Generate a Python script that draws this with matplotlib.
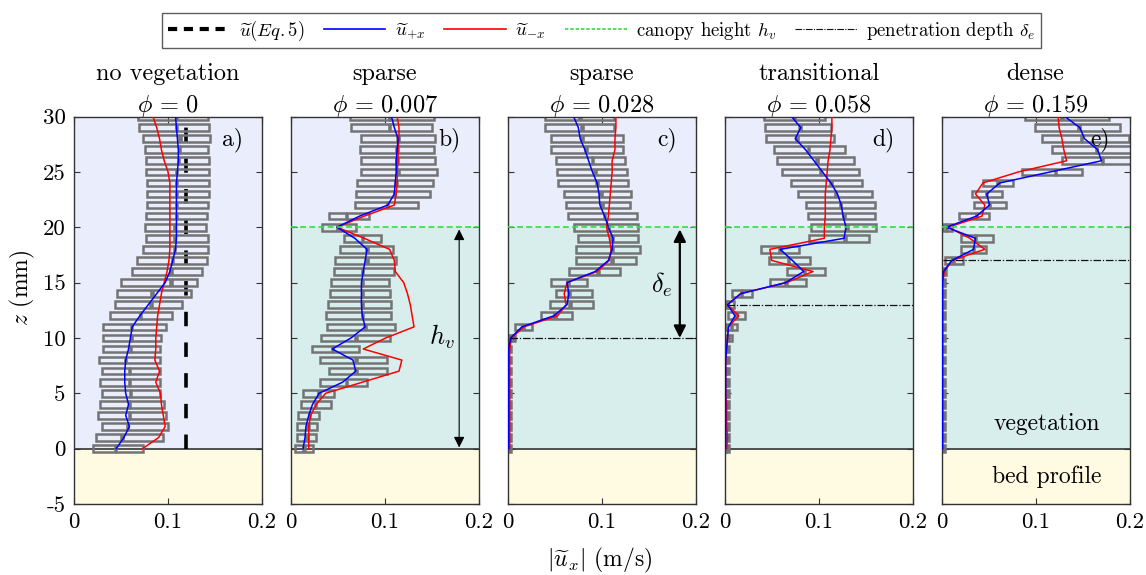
import numpy as np
import matplotlib.pyplot as plt
from matplotlib.patches import Rectangle
from matplotlib.lines import Line2D

plt.rcParams['font.family'] = 'cmr10'
plt.rcParams['mathtext.fontset'] = 'cm'
plt.rcParams['axes.formatter.use_mathtext'] = True

# measurement heights (mm)
z = np.arange(0, 31)

titles = ['no vegetation\n$\\phi\\,=\\,0$', 'sparse\n$\\phi\\,=\\,0.007$', 'sparse\n$\\phi\\,=\\,0.028$',
          'transitional\n$\\phi\\,=\\,0.058$', 'dense\n$\\phi\\,=\\,0.159$']
panel_labels = ['a)', 'b)', 'c)', 'd)', 'e)']

# mean velocity profiles |u_x| (m/s), z = 0..30
blue_a = [0.045, 0.053, 0.059, 0.055, 0.058, 0.055, 0.054, 0.054, 0.055, 0.058, 0.060, 0.062, 0.070, 0.079, 0.088, 0.097,
          0.102, 0.105, 0.108, 0.109, 0.109, 0.109, 0.109, 0.109, 0.109, 0.110, 0.111, 0.111, 0.110, 0.109, 0.108]
red_a = [0.073, 0.090, 0.097, 0.095, 0.093, 0.092, 0.087, 0.091, 0.086, 0.087, 0.087, 0.088, 0.089, 0.091, 0.093, 0.096,
         0.099, 0.101, 0.102, 0.102, 0.102, 0.102, 0.102, 0.102, 0.102, 0.100, 0.096, 0.093, 0.091, 0.088, 0.084]
blue_b = [0.013, 0.015, 0.016, 0.019, 0.023, 0.030, 0.055, 0.069, 0.066, 0.044, 0.064, 0.079, 0.076, 0.075, 0.075, 0.075,
          0.077, 0.079, 0.081, 0.068, 0.049, 0.073, 0.103, 0.110, 0.111, 0.112, 0.112, 0.113, 0.114, 0.110, 0.107]
red_b = [0.019, 0.019, 0.019, 0.021, 0.027, 0.037, 0.076, 0.115, 0.118, 0.077, 0.101, 0.131, 0.129, 0.127, 0.124, 0.120,
         0.111, 0.110, 0.105, 0.078, 0.049, 0.078, 0.110, 0.112, 0.113, 0.113, 0.114, 0.114, 0.115, 0.115, 0.113]
blue_c = [0.001, 0.001, 0.001, 0.001, 0.001, 0.001, 0.001, 0.001, 0.001, 0.001, 0.003, 0.015, 0.049, 0.063, 0.065, 0.063,
          0.093, 0.107, 0.111, 0.112, 0.107, 0.103, 0.098, 0.097, 0.095, 0.090, 0.086, 0.082, 0.077, 0.075, 0.070]
red_c = [0.002, 0.002, 0.002, 0.002, 0.002, 0.002, 0.002, 0.002, 0.002, 0.002, 0.004, 0.017, 0.053, 0.062, 0.060, 0.063,
         0.095, 0.108, 0.110, 0.108, 0.105, 0.107, 0.108, 0.109, 0.110, 0.111, 0.111, 0.114, 0.114, 0.115, 0.115]
blue_d = [0.001, 0.001, 0.001, 0.001, 0.001, 0.001, 0.001, 0.001, 0.001, 0.002, 0.003, 0.004, 0.011, 0.003, 0.017, 0.065,
          0.084, 0.072, 0.059, 0.127, 0.129, 0.126, 0.124, 0.120, 0.113, 0.104, 0.095, 0.086, 0.075, 0.081, 0.071]
red_d = [0.002, 0.003, 0.002, 0.002, 0.002, 0.001, 0.001, 0.001, 0.001, 0.002, 0.003, 0.004, 0.015, 0.003, 0.017, 0.066,
         0.094, 0.050, 0.048, 0.106, 0.106, 0.107, 0.107, 0.107, 0.108, 0.109, 0.110, 0.112, 0.113, 0.114, 0.114]
blue_e = [0.001, 0.001, 0.001, 0.001, 0.001, 0.001, 0.001, 0.001, 0.001, 0.001, 0.001, 0.001, 0.001, 0.001, 0.001, 0.001,
          0.002, 0.011, 0.034, 0.036, 0.005, 0.037, 0.051, 0.048, 0.062, 0.116, 0.170, 0.166, 0.152, 0.147, 0.131]
red_e = [0.001, 0.001, 0.001, 0.001, 0.001, 0.001, 0.001, 0.001, 0.001, 0.001, 0.001, 0.001, 0.001, 0.001, 0.001, 0.001,
         0.003, 0.011, 0.046, 0.030, 0.007, 0.043, 0.046, 0.036, 0.044, 0.082, 0.133, 0.130, 0.128, 0.125, 0.124]

# spread boxes: lower edge, middle, upper edge (m/s)
lo_a = [0.020, 0.023, 0.030, 0.026, 0.028, 0.030, 0.028, 0.030, 0.027, 0.031, 0.031, 0.031, 0.038, 0.044, 0.046, 0.050,
        0.062, 0.067, 0.073, 0.077, 0.076, 0.077, 0.078, 0.078, 0.078, 0.077, 0.077, 0.076, 0.073, 0.069, 0.068]
mid_a = [0.044, 0.051, 0.057, 0.059, 0.059, 0.060, 0.059, 0.059, 0.055, 0.060, 0.061, 0.061, 0.071, 0.082, 0.083, 0.103,
         0.103, 0.105, 0.107, 0.107, 0.107, 0.109, 0.109, 0.109, 0.109, 0.109, 0.111, 0.112, 0.113, 0.109, 0.109]
hi_a = [0.073, 0.095, 0.100, 0.098, 0.096, 0.092, 0.091, 0.091, 0.091, 0.091, 0.093, 0.098, 0.104, 0.115, 0.124, 0.131,
        0.136, 0.141, 0.143, 0.143, 0.140, 0.141, 0.143, 0.144, 0.144, 0.144, 0.144, 0.143, 0.145, 0.144, 0.143]
lo_b = [0.004, 0.006, 0.006, 0.008, 0.011, 0.013, 0.031, 0.040, 0.031, 0.022, 0.032, 0.038, 0.037, 0.039, 0.042, 0.043,
        0.046, 0.047, 0.052, 0.056, 0.033, 0.041, 0.068, 0.069, 0.070, 0.075, 0.075, 0.074, 0.075, 0.064, 0.063]
mid_b = [0.014, 0.017, 0.018, 0.020, 0.026, 0.030, 0.059, 0.069, 0.069, 0.044, 0.069, 0.079, 0.076, 0.076, 0.076, 0.076,
         0.076, 0.081, 0.081, 0.076, 0.050, 0.059, 0.103, 0.110, 0.112, 0.114, 0.113, 0.113, 0.114, 0.105, 0.105]
hi_b = [0.023, 0.027, 0.028, 0.030, 0.043, 0.046, 0.081, 0.102, 0.102, 0.072, 0.105, 0.111, 0.107, 0.107, 0.105, 0.104,
        0.110, 0.112, 0.109, 0.096, 0.069, 0.083, 0.135, 0.148, 0.151, 0.155, 0.153, 0.152, 0.153, 0.150, 0.152]
lo_c = [0.000, 0.000, 0.000, 0.000, 0.000, 0.000, 0.000, 0.000, 0.000, 0.000, 0.001, 0.008, 0.035, 0.045, 0.051, 0.046,
        0.065, 0.073, 0.073, 0.075, 0.070, 0.064, 0.062, 0.060, 0.053, 0.052, 0.051, 0.046, 0.046, 0.040, 0.040]
mid_c = [0.001, 0.001, 0.001, 0.001, 0.001, 0.001, 0.001, 0.001, 0.001, 0.001, 0.005, 0.016, 0.050, 0.066, 0.065, 0.064,
         0.096, 0.111, 0.111, 0.111, 0.107, 0.103, 0.100, 0.099, 0.095, 0.093, 0.090, 0.083, 0.079, 0.079, 0.077]
hi_c = [0.003, 0.003, 0.003, 0.003, 0.003, 0.003, 0.003, 0.003, 0.003, 0.003, 0.008, 0.026, 0.068, 0.091, 0.090, 0.084,
        0.119, 0.136, 0.141, 0.139, 0.139, 0.137, 0.130, 0.131, 0.128, 0.127, 0.125, 0.123, 0.123, 0.113, 0.113]
lo_d = [0.000, 0.000, 0.000, 0.000, 0.000, 0.000, 0.000, 0.000, 0.000, 0.000, 0.000, 0.001, 0.004, 0.000, 0.008, 0.048,
        0.066, 0.047, 0.039, 0.090, 0.092, 0.089, 0.086, 0.078, 0.070, 0.061, 0.056, 0.052, 0.044, 0.043, 0.042]
mid_d = [0.002, 0.002, 0.002, 0.002, 0.002, 0.002, 0.002, 0.002, 0.002, 0.002, 0.004, 0.007, 0.012, 0.003, 0.018, 0.065,
         0.085, 0.068, 0.059, 0.128, 0.130, 0.127, 0.123, 0.118, 0.113, 0.102, 0.098, 0.089, 0.077, 0.080, 0.074]
hi_d = [0.005, 0.005, 0.005, 0.005, 0.005, 0.005, 0.005, 0.005, 0.005, 0.005, 0.008, 0.013, 0.022, 0.010, 0.029, 0.086,
        0.107, 0.091, 0.079, 0.154, 0.161, 0.160, 0.160, 0.157, 0.146, 0.143, 0.138, 0.128, 0.116, 0.113, 0.107]
lo_e = [0.000, 0.000, 0.000, 0.000, 0.000, 0.000, 0.000, 0.000, 0.000, 0.000, 0.000, 0.000, 0.000, 0.000, 0.000, 0.000,
        0.000, 0.004, 0.021, 0.021, 0.002, 0.019, 0.034, 0.032, 0.044, 0.085, 0.128, 0.117, 0.107, 0.099, 0.089]
mid_e = [0.001, 0.001, 0.001, 0.001, 0.001, 0.001, 0.001, 0.001, 0.001, 0.001, 0.001, 0.001, 0.001, 0.001, 0.001, 0.001,
         0.003, 0.012, 0.034, 0.036, 0.005, 0.037, 0.051, 0.048, 0.060, 0.121, 0.171, 0.165, 0.149, 0.146, 0.128]
hi_e = [0.004, 0.004, 0.004, 0.004, 0.004, 0.004, 0.004, 0.004, 0.004, 0.004, 0.004, 0.004, 0.004, 0.004, 0.004, 0.004,
        0.005, 0.023, 0.047, 0.055, 0.011, 0.050, 0.069, 0.064, 0.076, 0.149, 0.210, 0.210, 0.199, 0.190, 0.178]

u_eq5 = 0.119          # analytical profile, panel a
canopy_h = [None, 20, 20, 20, 20]
pen_depth = [None, None, 10, 13, 17]

blues = [blue_a, blue_b, blue_c, blue_d, blue_e]
reds = [red_a, red_b, red_c, red_d, red_e]
los = [lo_a, lo_b, lo_c, lo_d, lo_e]
mids = [mid_a, mid_b, mid_c, mid_d, mid_e]
his = [hi_a, hi_b, hi_c, hi_d, hi_e]

c_free = '#eaeefc'
c_veg = '#d8eeed'
c_bed = '#fffbe2'
c_box = '#737373'

W, H = 1146, 575
fig = plt.figure(figsize=(W / 100, H / 100), dpi=100)

axes = []
for i in range(5):
    left = 74 + i * 216.9
    ax = fig.add_axes([left / W, (H - 504) / H, 188 / W, 387.5 / H])
    axes.append(ax)
    ax.set_facecolor(c_free)
    ax.set_xlim(0, 0.2)
    ax.set_ylim(-5, 30)
    ax.axhspan(-5, 0, color=c_bed, zorder=0, lw=0)
    if canopy_h[i] is not None:
        ax.axhspan(0, canopy_h[i], color=c_veg, zorder=0, lw=0)
    ax.axhline(0, color='#333333', lw=1.2, zorder=1)

    if i == 0:
        ax.plot([u_eq5, u_eq5], [0, 30], color='k', lw=2.6, dashes=(4, 4.5), zorder=1.5)

    # spread boxes
    for zz, lo, md, hi in zip(z, los[i], mids[i], his[i]):
        g = 0.0008
        ax.add_patch(Rectangle((lo, zz - 0.3), max(md - lo - g, 0.0005), 0.6,
                               edgecolor=c_box, lw=1.8, zorder=2, fill=False))
        ax.add_patch(Rectangle((md + g, zz - 0.3), max(hi - md - g, 0.0005), 0.6,
                               edgecolor=c_box, lw=1.8, zorder=2, fill=False))

    ax.plot(reds[i], z, color='#ff0000', lw=1.1, zorder=3)
    ax.plot(blues[i], z, color='#0000ff', lw=1.1, zorder=3.1)

    if canopy_h[i] is not None:
        ax.axhline(canopy_h[i], color='#33dd44', lw=1.2, dashes=(3.5, 2), zorder=3.5)
    if pen_depth[i] is not None:
        ax.plot([0.002, 0.2], [pen_depth[i], pen_depth[i]], color='#111111', lw=0.9,
                dashes=(6, 1.5, 1, 1.5), zorder=3.5)

    ax.set_title(titles[i], fontsize=17.5, pad=3, linespacing=1.45)
    ax.text(0.169, 27.9, panel_labels[i], fontsize=17, ha='center', va='center', zorder=5)

    ax.set_xticks([0, 0.1, 0.2])
    ax.set_xticklabels(['0', '0.1', '0.2'], fontsize=16.5)
    ax.set_yticks([-5, 0, 5, 10, 15, 20, 25, 30])
    if i == 0:
        ax.set_yticklabels(['-5', '0', '5', '10', '15', '20', '25', '30'], fontsize=16.5)
    else:
        ax.set_yticklabels([])
    ax.tick_params(direction='in', length=4, width=0.8, top=True, right=True, colors='#333333',
                   labelcolor='k', pad=6)
    for s in ax.spines.values():
        s.set_color('#333333')
        s.set_linewidth(1.0)

# canopy height and penetration depth arrows
axes[1].annotate('', xy=(0.179, 0.1), xytext=(0.179, 19.8),
                 arrowprops=dict(arrowstyle='<|-|>', color='k', lw=0.8, mutation_scale=16,
                                 shrinkA=0, shrinkB=0))
axes[1].text(0.161, 10.1, '$h_v$', fontsize=19, ha='center', va='center')
axes[2].annotate('', xy=(0.183, 10.0), xytext=(0.183, 19.8),
                 arrowprops=dict(arrowstyle='<|-|>', color='k', lw=1.6, mutation_scale=18,
                                 shrinkA=0, shrinkB=0))
axes[2].text(0.164, 14.8, '$\\delta_e$', fontsize=19, ha='center', va='center')

axes[4].text(0.112, 2.2, 'vegetation', fontsize=17, ha='center', va='center')
axes[4].text(0.112, -2.5, 'bed profile', fontsize=17, ha='center', va='center')

fig.text(22 / W, 1 - 288 / H, '$z$ (mm)', fontsize=17, rotation=90, ha='center', va='center')
fig.text(600 / W, 1 - 560 / H, '$|\\widetilde{u}_x|$ (m/s)', fontsize=17, ha='center', va='center')

handles = [Line2D([], [], color='k', lw=3, dashes=(2.2, 1.6)),
           Line2D([], [], color='#0000ff', lw=1.2),
           Line2D([], [], color='#ff0000', lw=1.2),
           Line2D([], [], color='#33dd44', lw=1.2, dashes=(2, 1.2)),
           Line2D([], [], color='#111111', lw=0.8, dashes=(6, 1.2, 1, 1.2))]
labels = ['$\\widetilde{u}(Eq.5)$', '$\\widetilde{u}_{+x}$', '$\\widetilde{u}_{-x}$',
          'canopy height $h_v$', 'penetration depth $\\delta_e$']
leg = fig.legend(handles, labels, loc='upper center', bbox_to_anchor=(0.525, 0.994), ncol=5,
                 fontsize=13.5, frameon=True, fancybox=False, edgecolor='#333333',
                 handlelength=3.3, handletextpad=0.5, columnspacing=1.0, borderpad=0.3)
leg.get_frame().set_linewidth(1.0)

fig.savefig('out.png', dpi=100)
